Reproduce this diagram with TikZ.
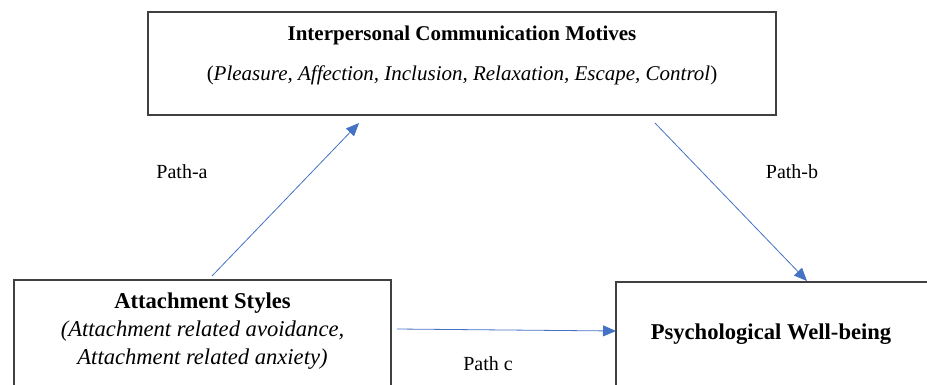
\documentclass[tikz,border=0pt]{standalone}
\usepackage{fontspec}
\setmainfont{Liberation Serif}
\usetikzlibrary{arrows.meta}

\definecolor{pathblue}{RGB}{68,114,196}
\definecolor{boxgray}{RGB}{64,64,64}

\tikzset{every picture/.style={line width=0.75pt}}
\tikzset{
	varbox/.style={draw=boxgray, line width=1.3pt, minimum width=#1, inner sep=0pt},
	pathline/.style={draw=pathblue, line width=0.8pt, -{Triangle[length=13pt,width=11pt]}},
	txt/.style={font=\fontsize{20}{28}\selectfont, inner sep=0pt},
	toptxt/.style={font=\fontsize{21}{28}\selectfont, inner sep=0pt},
	boxtxt/.style={font=\fontsize{22.6}{28}\selectfont, inner sep=0pt}
}

\begin{document}
\begin{tikzpicture}[x=1pt,y=1pt,yscale=-1,xscale=1]
	\useasboundingbox (0,0) rectangle (927,384);
	\clip (0,0) rectangle (927,384);

	%Shape: Rectangle [id:motives] 
	\node [varbox=628pt, minimum height=103pt] (motives) at (462,63.5) {};
	%Shape: Rectangle [id:attach] 
	\node [varbox=377pt, minimum height=140pt] (attach) at (202.5,350) {};
	%Shape: Rectangle [id:wellbeing] 
	\node [varbox=340pt, minimum height=140pt] (wellbeing) at (786,352) {};

	% Text Node
	\node [toptxt] (motivesT) at (462,35) {\textbf{Interpersonal Communication Motives}};
	% Text Node
	\node [toptxt] (motivesS) at (462,75) {(\textit{Pleasure, Affection, Inclusion, Relaxation, Escape, Control})};
	% Text Node
	\node [boxtxt] (attachT) at (202.5,303) {\textbf{Attachment Styles}};
	% Text Node
	\node [boxtxt] (attachS1) at (202.5,331) {\textit{(Attachment related avoidance,}};
	% Text Node
	\node [boxtxt] (attachS2) at (202.5,359) {\textit{Attachment related anxiety)}};
	% Text Node
	\node [boxtxt] (wellbeingT) at (771,334) {\textbf{Psychological Well-being}};

	%Straight Lines [id:patha] 
	\coordinate (aStart) at (212,276);
	\coordinate (aEnd) at (359,123);
	\draw [pathline] (aStart) -- (aEnd);
	%Straight Lines [id:pathb] 
	\coordinate (bStart) at (655,123);
	\coordinate (bEnd) at (807,281);
	\draw [pathline] (bStart) -- (bEnd);
	%Straight Lines [id:pathc] 
	\coordinate (cStart) at (397,329);
	\coordinate (cEnd) at (616,331);
	\draw [pathline] (cStart) -- (cEnd);

	% Text Node
	\node [txt] (labelA) at (182,172) {Path-a};
	% Text Node
	\node [txt] (labelB) at (792,172) {Path-b};
	% Text Node
	\node [txt] (labelC) at (488,364) {Path c};

\end{tikzpicture}
\end{document}
